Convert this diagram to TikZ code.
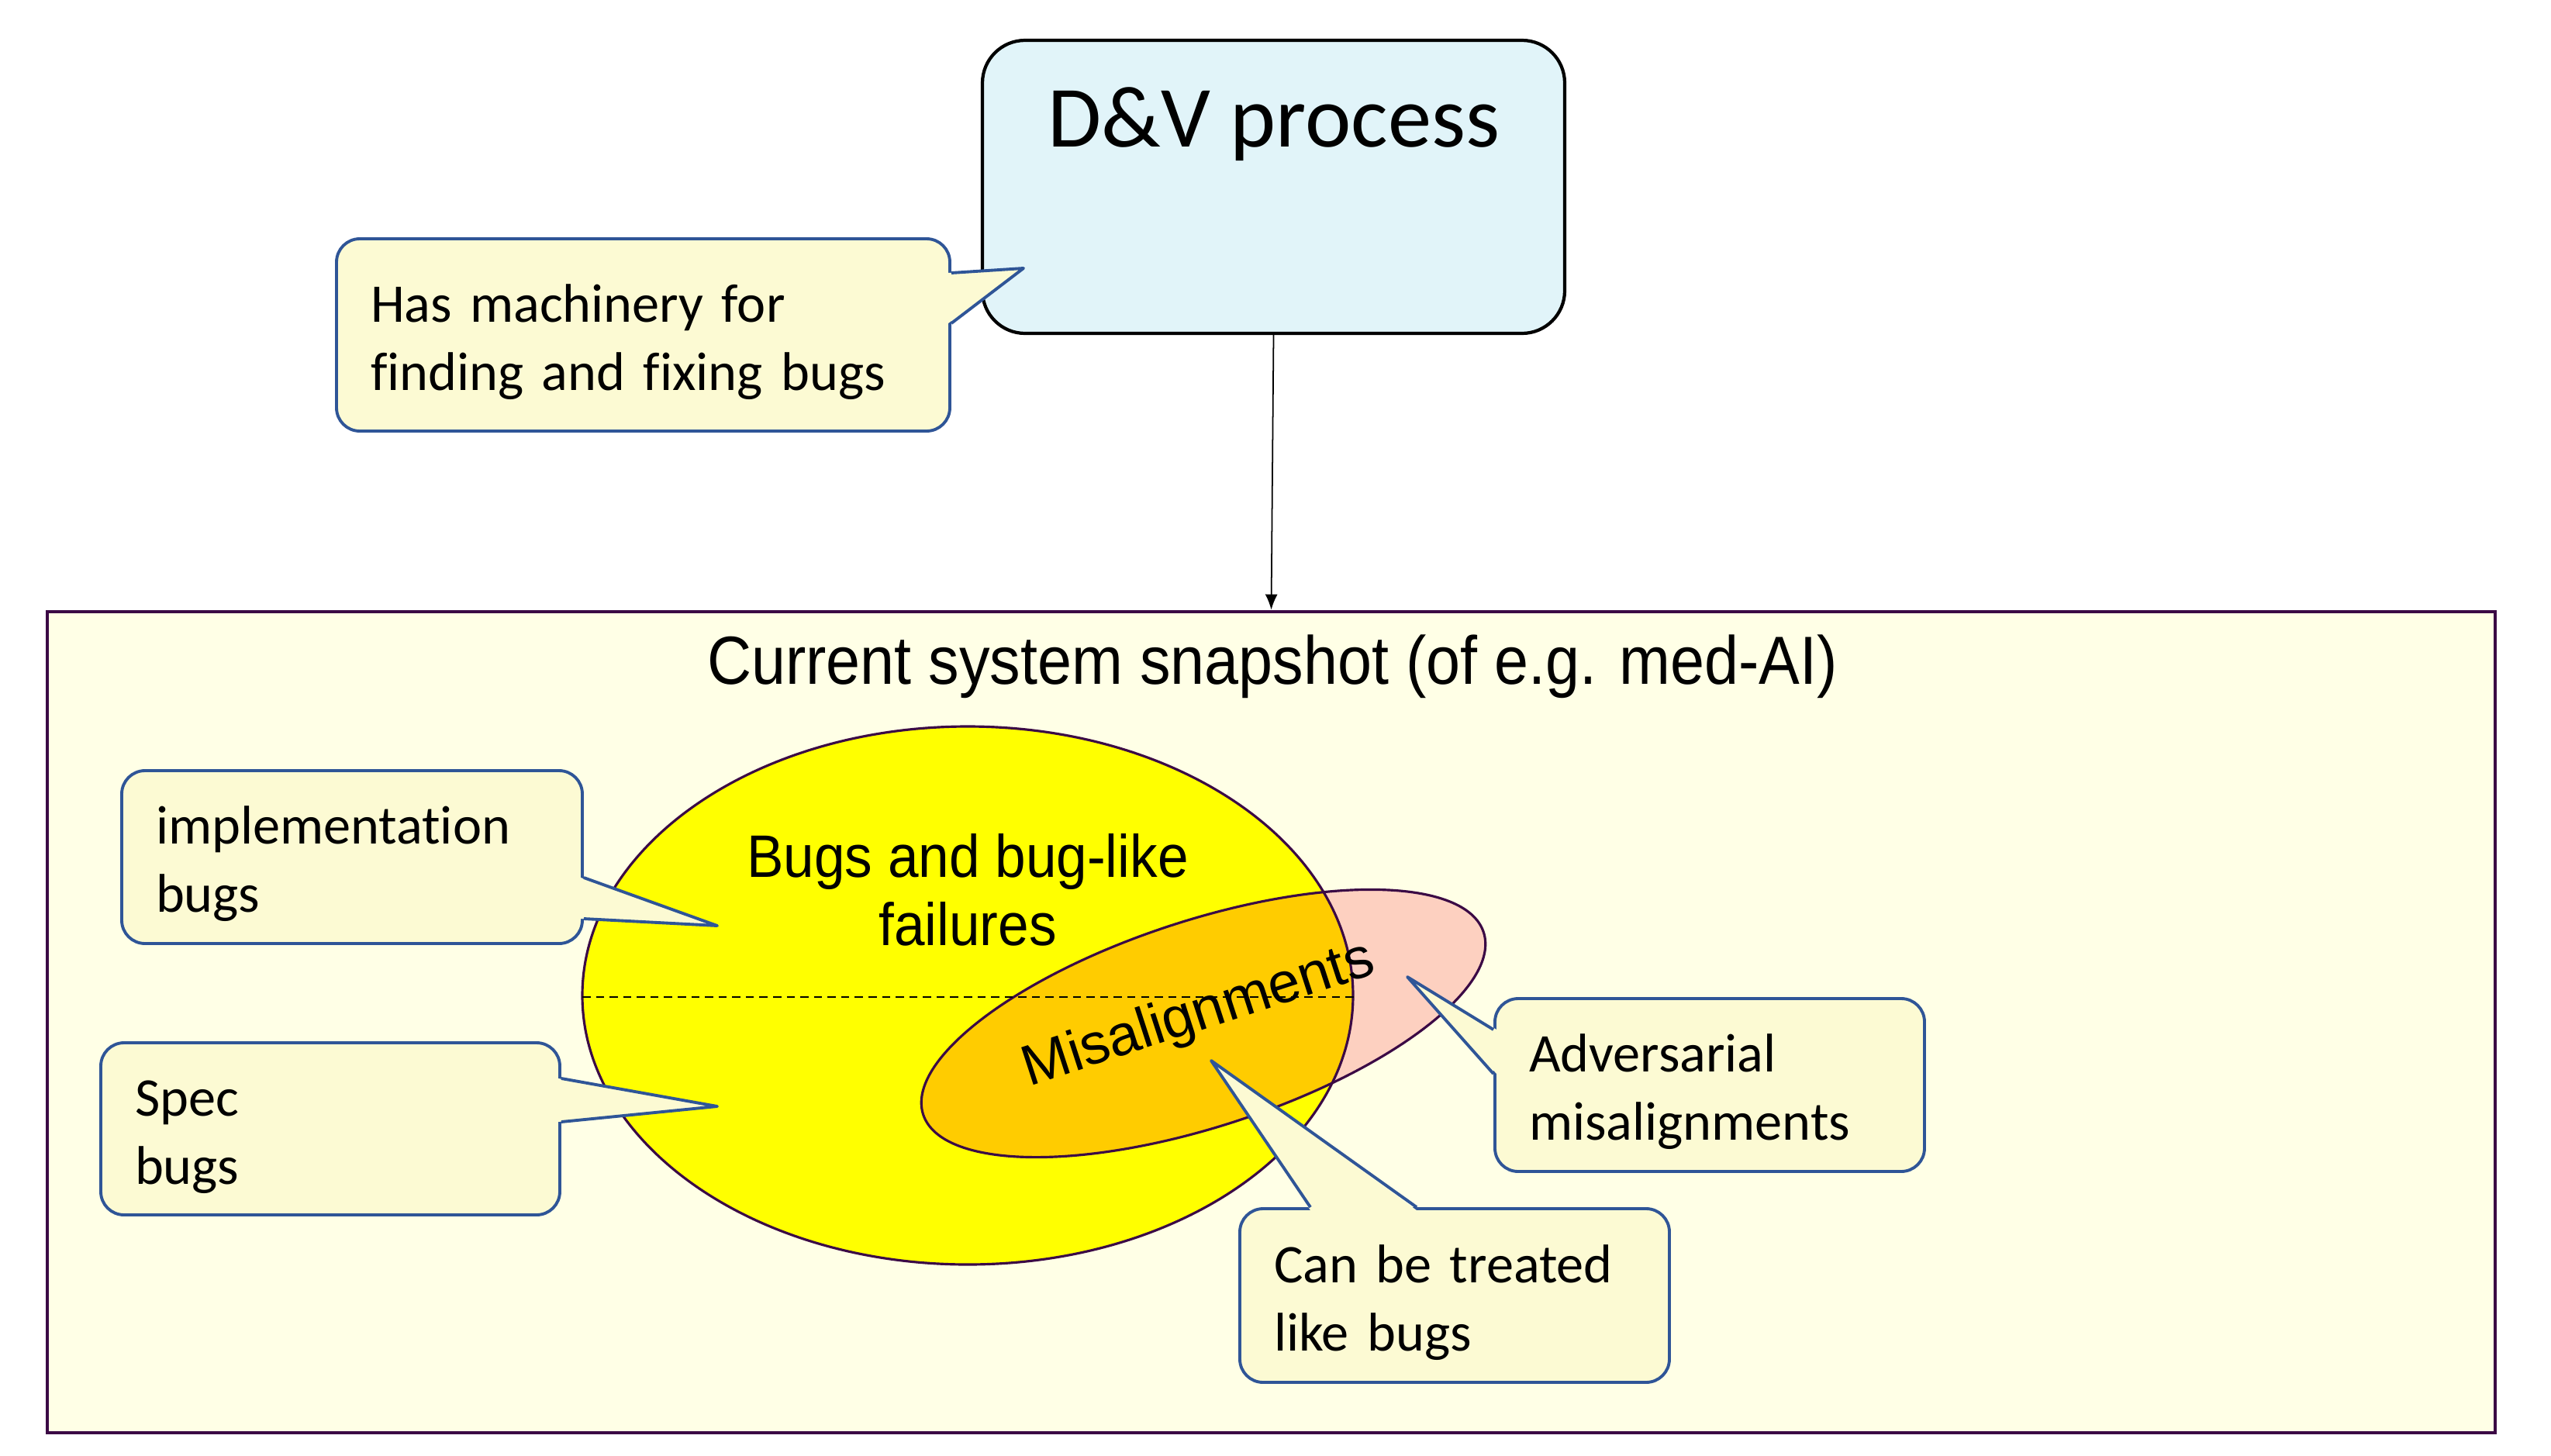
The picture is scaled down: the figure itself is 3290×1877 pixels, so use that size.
\documentclass[tikz,border=0pt]{standalone}
\usepackage{fontspec}
\setmainfont[Ligatures=NoCommon]{Carlito}
\newfontfamily\dvnarrow[FakeStretch=0.9]{Liberation Sans}
\newfontfamily\dvsetfont[FakeStretch=0.92]{Liberation Sans}
\newfontfamily\dvarial{Liberation Sans}
\usetikzlibrary{arrows.meta,positioning,calc}
\definecolor{dvink}{HTML}{000000}
\definecolor{dvboxfill}{HTML}{E1F4F9}
\definecolor{dvnotefill}{HTML}{FCFAD3}
\definecolor{dvnoteline}{HTML}{2F5597}
\definecolor{dvframefill}{HTML}{FFFFE6}
\definecolor{dvpurple}{HTML}{3B0A45}
\definecolor{dvyellow}{HTML}{FFFF00}
\definecolor{dvpink}{HTML}{FDD0C0}
\definecolor{dvorange}{HTML}{FFCC00}
\tikzset{
  dv/.style={font=\fontsize{20}{25}\selectfont, text=dvink},
  dvbox/.style={draw=dvink, fill=dvboxfill, rounded corners=5.5mm, line width=1.2pt},
  dvframe/.style={draw=dvpurple, fill=dvframefill, line width=1.4pt},
  dvnote/.style={draw=dvnoteline, fill=dvnotefill, rounded corners=3mm,
    line width=1.1pt, align=left, inner sep=0pt,
    execute at begin node={\rule{0pt}{19pt}}},
  dvptrfill/.style={fill=dvnotefill},
  dvptrline/.style={draw=dvnoteline, line width=1.1pt, line join=round},
  dvset/.style={draw=dvpurple, line width=0.9pt},
  dvarr/.style={-{Latex[length=2mm,width=1.6mm]}, line width=0.5pt, draw=dvink},
}

\begin{document}
\begin{tikzpicture}[dv, x=0.1mm, y=-0.1mm]
  \useasboundingbox (0,0) rectangle (3290,1877);
  % D&V box
  \node[dvbox, minimum width=75.1mm, minimum height=37.8mm] (dv) at (1642.5,241) {};
  \node[font=\fontsize{32}{38}\selectfont] (dvtitle) at (1643,160) {D\&V process};
  % snapshot frame
  \node[dvframe, minimum width=315.7mm, minimum height=105.9mm] (snap) at (1639.5,1318.5) {};
  \node[font=\dvnarrow\fontsize{25}{30}\selectfont] (snaptitle) at (1641,860) {Current system snapshot (of e.g. med-AI)};
  \draw[dvarr] (dv.south) -- (snap.north);
  % sets
  \fill[dvyellow] (1248,1284) ellipse [x radius=49.7mm, y radius=34.7mm];
  \begin{scope}[shift={(1552,1320)}, rotate=18]
    \fill[dvpink] (0,0) ellipse [x radius=38mm, y radius=13.3mm];
  \end{scope}
  \begin{scope}
    \clip (1248,1284) ellipse [x radius=49.7mm, y radius=34.7mm];
    \begin{scope}[shift={(1552,1320)}, rotate=18]
      \fill[dvorange] (0,0) ellipse [x radius=38mm, y radius=13.3mm];
    \end{scope}
  \end{scope}
  \draw[dvset] (1248,1284) ellipse [x radius=49.7mm, y radius=34.7mm];
  \begin{scope}[shift={(1552,1320)}, rotate=18]
    \draw[dvset] (0,0) ellipse [x radius=38mm, y radius=13.3mm];
  \end{scope}
  \coordinate (dashl) at (751,1286);
  \coordinate (dashr) at (1749,1286);
  \draw[dashed, line width=0.5pt, dash pattern=on 3pt off 2pt] (dashl) -- (dashr);
  \node[font=\dvsetfont\fontsize{22}{25}\selectfont, align=center] (bugs) at (1248,1148) {Bugs and bug-like\\failures};
  \node[font=\dvarial\fontsize{21}{25}\selectfont, rotate=18] (mis) at (1546,1310) {Misalignments};
  % callouts
  \node[dvnote, minimum width=79.1mm, minimum height=24.8mm, text width=70.3mm] (mach) at (829.5,432) {Has machinery for\\finding and fixing bugs};
  \coordinate (machtip) at (1320,346);
  \fill[dvptrfill] ($(mach.east)+(-4,-80)$) -- (machtip) -- ($(mach.east)+(-4,-15)$) -- cycle;
  \draw[dvptrline] ($(mach.east)+(0,-80)$) -- (machtip) -- ($(mach.east)+(0,-15)$);

  \node[dvnote, minimum width=59.4mm, minimum height=22.3mm, text width=50.6mm] (impl) at (454,1105.5) {implementation\\bugs};
  \coordinate (impltip) at (925,1194);
  \fill[dvptrfill] ($(impl.east)+(-4,26.5)$) -- (impltip) -- ($(impl.east)+(-4,79.5)$) -- cycle;
  \draw[dvptrline] ($(impl.east)+(0,26.5)$) -- (impltip) -- ($(impl.east)+(0,79.5)$);

  \node[dvnote, minimum width=59.2mm, minimum height=22.2mm, text width=50.4mm] (spec) at (426,1456) {Spec\\bugs};
  \coordinate (spectip) at (925,1427);
  \fill[dvptrfill] ($(spec.east)+(-4,-65)$) -- (spectip) -- ($(spec.east)+(-4,-9)$) -- cycle;
  \draw[dvptrline] ($(spec.east)+(0,-65)$) -- (spectip) -- ($(spec.east)+(0,-9)$);

  \node[dvnote, minimum width=55.4mm, minimum height=22.3mm, text width=46.6mm] (adv) at (2205,1399.5) {Adversarial\\misalignments};
  \coordinate (advtip) at (1815,1260);
  \fill[dvptrfill] ($(adv.west)+(4,-71.5)$) -- (advtip) -- ($(adv.west)+(4,-14.5)$) -- cycle;
  \draw[dvptrline] ($(adv.west)+(0,-71.5)$) -- (advtip) -- ($(adv.west)+(0,-14.5)$);

  \node[dvnote, minimum width=55.4mm, minimum height=22.4mm, text width=46.6mm] (treat) at (1876,1671) {Can be treated\\like bugs};
  \coordinate (treattip) at (1562,1368);
  \fill[dvptrfill] ($(treat.north)+(-186,4)$) -- (treattip) -- ($(treat.north)+(-49,4)$) -- cycle;
  \draw[dvptrline] ($(treat.north)+(-186,0)$) -- (treattip) -- ($(treat.north)+(-49,0)$);
\end{tikzpicture}
\end{document}
